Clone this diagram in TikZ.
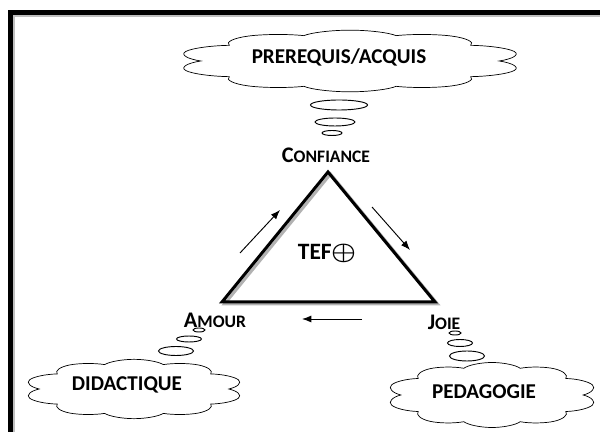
\documentclass[tikz,border=0pt]{standalone}
\usepackage{fontspec}
\setmainfont{Carlito}
\usetikzlibrary{shapes.symbols,shapes.geometric,arrows.meta}

\newcommand{\petitcap}[2]{{\fontsize{19}{19}\selectfont #1}{\fontsize{15}{15}\selectfont #2}}

\begin{document}
\begin{tikzpicture}[x=0.03cm,y=0.03cm,
	thoughtcloud/.style={cloud, cloud puffs=10, cloud puff arc=135, cloud ignores aspect, draw, semithick, inner sep=0pt, transform shape},
	cloudtext/.style={font=\bfseries\fontsize{18}{18}\selectfont},
	bubble/.style={ellipse, draw, thick, inner sep=0pt},
	sclabel/.style={font=\bfseries, inner sep=1pt},
	flowarrow/.style={-{Latex[length=8pt,width=6pt]}, line width=0.8pt}]
	\useasboundingbox (0,0) rectangle (600,432);
	
	% Frame
	\draw[gray!50, line width=0.06cm] (14,0) -- (14,415.5) -- (600,415.5);
	\draw[line width=0.15cm] (10.5,0) -- (10.5,419) -- (600,419);
	
	% Triangle
	\coordinate (apex) at (328,260);
	\coordinate (baseL) at (222,130);
	\coordinate (baseR) at (435,130);
	\draw[gray!60, line width=0.09cm, line join=miter] ([shift={(2.5,-2)}]apex) -- ([shift={(2.5,-2)}]baseL) -- ([shift={(2.5,-2)}]baseR) -- cycle;
	\draw[line width=0.09cm, line join=miter] (apex) -- (baseL) -- (baseR) -- cycle;
	\node (tef) at (327,179) {\bfseries\fontsize{20}{20}\selectfont TEF\kern-0.5pt\raisebox{0.3pt}{\scalebox{1.15}[1.0]{\boldmath$\oplus$}}};
	
	% Corners
	\node[sclabel] (confiance) at (326,277) {\petitcap{C}{ONFIANCE}};
	\node[sclabel] (amour) at (215,112) {\petitcap{A}{MOUR}};
	\node[sclabel] (joie) at (444,110) {\petitcap{J}{OIE}};
	
	% Arrows along the sides
	\coordinate (upA) at (240,179);
	\coordinate (upB) at (280,222);
	\coordinate (downA) at (372,225);
	\coordinate (downB) at (410,182);
	\coordinate (backA) at (362,113);
	\coordinate (backB) at (302,113);
	\draw[flowarrow] (upA) -- (upB);
	\draw[flowarrow] (downA) -- (downB);
	\draw[flowarrow] (backA) -- (backB);
	
	% Prerequis cloud
	\node[thoughtcloud, minimum size=1.85cm, xscale=5.6] (prerequisCloud) at (350,371) {};
	\node[cloudtext] (prerequis) at (339,375) {PREREQUIS/ACQUIS};
	\node[bubble, minimum width=1.71cm, minimum height=0.3cm] (tb1) at (339,327) {};
	\node[bubble, minimum width=1.2cm, minimum height=0.24cm] (tb2) at (335,310) {};
	\node[bubble, minimum width=0.6cm, minimum height=0.15cm] (tb3) at (332,299) {};
	
	% Didactique cloud
	\node[thoughtcloud, minimum size=1.78cm, xscale=3.7] (didactiqueCloud) at (134,43) {};
	\node[cloudtext] (didactique) at (127,47) {DIDACTIQUE};
	\node[bubble, minimum width=0.36cm, minimum height=0.12cm] (lb1) at (199,102) {};
	\node[bubble, minimum width=0.75cm, minimum height=0.18cm] (lb2) at (189,93) {};
	\node[bubble, minimum width=1.05cm, minimum height=0.27cm] (lb3) at (176,81) {};
	
	% Pedagogie cloud
	\node[thoughtcloud, minimum size=1.95cm, xscale=3.25] (pedagogieCloud) at (492,37) {};
	\node[cloudtext] (pedagogie) at (484,40) {PEDAGOGIE};
	\node[bubble, minimum width=0.36cm, minimum height=0.12cm] (rb1) at (455,99) {};
	\node[bubble, minimum width=0.75cm, minimum height=0.21cm] (rb2) at (460,89) {};
	\node[bubble, minimum width=1.05cm, minimum height=0.3cm] (rb3) at (467,76) {};
\end{tikzpicture}
\end{document}
